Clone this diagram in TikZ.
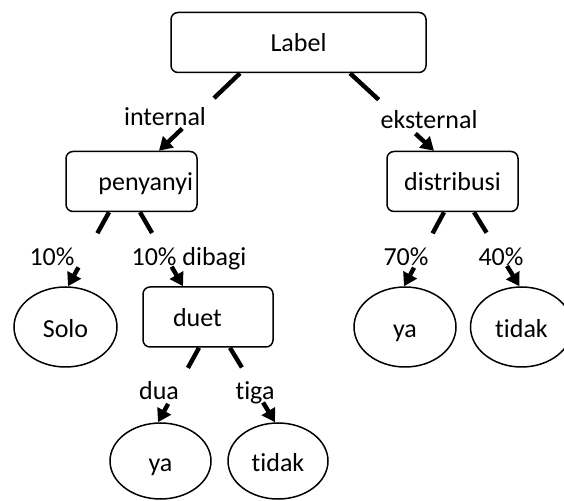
\documentclass[tikz,border=0pt]{standalone}
\usepackage{fontspec}
\setmainfont{Carlito}[Ligatures={NoCommon}]
\usepackage{tikz}
\usetikzlibrary{arrows.meta,shapes.geometric}

\begin{document}
\begin{tikzpicture}[x=1pt, y=1pt, every node/.style={font=\fontsize{26}{31}\selectfont},
  box/.style={draw, rectangle, rounded corners=7pt, line width=1.5pt, minimum height=60pt, inner ysep=0pt, text height=19pt, text depth=0pt},
  leaf/.style={draw, ellipse, line width=1.5pt, inner sep=0pt, text height=21pt, text depth=0pt},
  branch/.style={line width=4.4pt, -{Triangle[width=15pt, length=13pt]}},
  tag/.style={inner sep=2pt, text height=18pt, text depth=0pt}]
\useasboundingbox (0,0) rectangle (564,500);
\clip (0,0) rectangle (564,500);

% Root
\node[box, minimum width=255pt] (root) at (298.5,457.5) {Label};

% Second level
\node[box, text width=123pt, inner xsep=4pt, align=right] (penyanyi) at (131.5,318.5) {penyanyi};
\node[box, minimum width=131pt] (distribusi) at (452.5,318.5) {distribusi};

% Third level
\node[leaf, minimum width=103pt, minimum height=80pt] (solo) at (65.5,173) {Solo};
\node[box, text width=70pt, inner xsep=30pt, align=left] (duet) at (208,183) {duet};
\node[leaf, minimum width=102pt, minimum height=80pt] (ya1) at (405,173) {ya};
\node[leaf, minimum width=102pt, minimum height=80pt] (tidak1) at (521.5,173) {tidak};

% Bottom leaves
\node[leaf, minimum width=101pt, minimum height=76pt] (ya2) at (160.5,39) {ya};
\node[leaf, minimum width=100pt, minimum height=76pt] (tidak2) at (278,39) {tidak};

% Arrows from root
\draw[branch, dash pattern=on 36pt off 44pt on 200pt off 0pt] ([xshift=-58.5pt]root.south) -- ([xshift=27.5pt]penyanyi.north);
\draw[branch, dash pattern=on 39pt off 50pt on 200pt off 0pt] ([xshift=51.5pt]root.south) -- ([xshift=-18.5pt]distribusi.north);

% Arrows from penyanyi
\draw[branch, dash pattern=on 24pt off 39pt on 200pt off 0pt] ([xshift=-22.5pt]penyanyi.south) -- ([xshift=2.5pt]solo.north);
\draw[branch, dash pattern=on 24pt off 39pt on 200pt off 0pt] ([xshift=8.5pt]penyanyi.south) -- ([xshift=-25pt]duet.north);

% Arrows from distribusi
\draw[branch, dash pattern=on 24pt off 39pt on 200pt off 0pt] ([xshift=-8.5pt]distribusi.south) -- ([xshift=-1pt]ya1.north);
\draw[branch, dash pattern=on 24pt off 39pt on 200pt off 0pt] ([xshift=21.5pt]distribusi.south) -- ([xshift=-2pt]tidak1.north);

% Arrows from duet
\draw[branch, dash pattern=on 23pt off 41pt on 200pt off 0pt] ([xshift=-9pt]duet.south) -- ([xshift=-2.5pt]ya2.north);
\draw[branch, dash pattern=on 23pt off 41pt on 200pt off 0pt] ([xshift=22pt]duet.south) -- ([xshift=-3pt]tidak2.north);

% Branch labels
\node[tag] (internal) at (165,383) {internal};
\node[tag] (eksternal) at (429,380) {eksternal};
\node[tag] (p10) at (52,243) {10\%};
\node[tag] (p10dibagi) at (189,243) {10\% dibagi};
\node[tag] (p70) at (406,243) {70\%};
\node[tag] (p40) at (501,243) {40\%};
\node[tag] (dua) at (159,109) {dua};
\node[tag] (tiga) at (255,109) {tiga};
\end{tikzpicture}
\end{document}
